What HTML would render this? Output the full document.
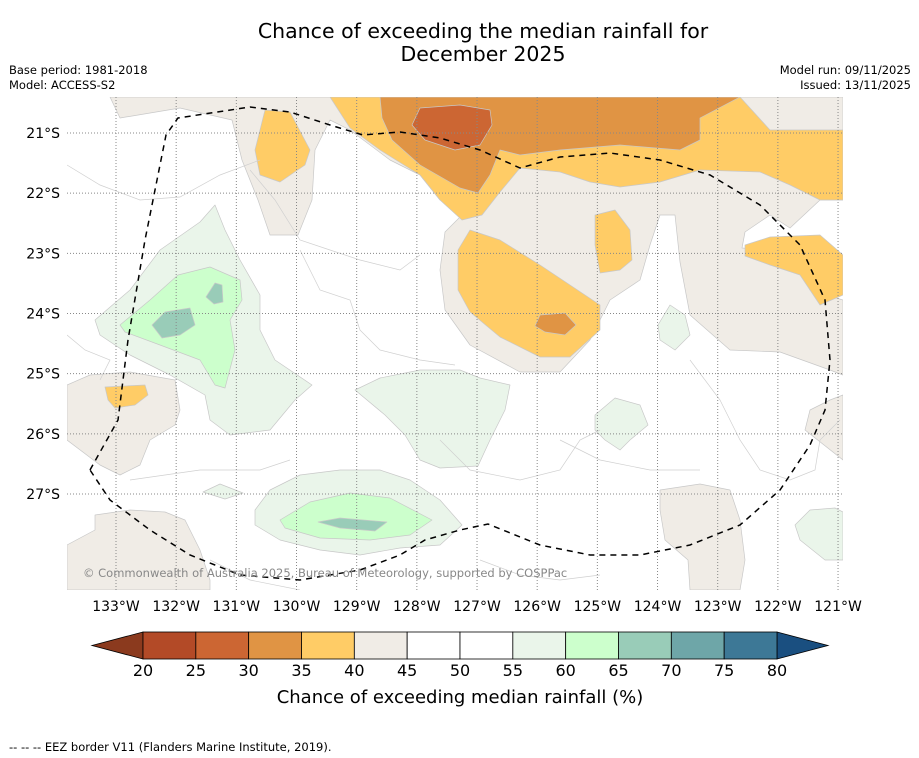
<!DOCTYPE html>
<html><head><meta charset="utf-8"><style>
body{margin:0;background:#fff;width:919px;height:758px;overflow:hidden;font-family:"Liberation Sans","DejaVu Sans",sans-serif}
svg{display:block}
</style></head><body>
<svg id="chart" width="919" height="758" xmlns="http://www.w3.org/2000/svg" font-family="DejaVu Sans, Liberation Sans, sans-serif">
<rect width="919" height="758" fill="#fff"/>
<text x="483" y="38" font-size="20.5" text-anchor="middle">Chance of exceeding the median rainfall for</text>
<text x="483" y="61" font-size="20.5" text-anchor="middle">December 2025</text>
<text x="9" y="74" font-size="11.5">Base period: 1981-2018</text>
<text x="9" y="89" font-size="11.5">Model: ACCESS-S2</text>
<text x="911" y="74" font-size="11.5" text-anchor="end">Model run: 09/11/2025</text>
<text x="911" y="89" font-size="11.5" text-anchor="end">Issued: 13/11/2025</text>
<defs><clipPath id="mapclip"><rect x="67" y="97" width="776" height="493"/></clipPath></defs>
<g id="map" clip-path="url(#mapclip)"></g>
<g id="axes"></g>
<g id="cbar"></g>
<text x="460" y="703" font-size="18" text-anchor="middle">Chance of exceeding median rainfall (%)</text>
<text x="9" y="751" font-size="11.5">--  --  -- EEZ border V11 (Flanders Marine Institute, 2019).</text>
</svg>
<script>
const lonTicks=[133,132,131,130,129,128,127,126,125,124,123,122,121];
const latTicks=[21,22,23,24,25,26,27];
const levels=[20,25,30,35,40,45,50,55,60,65,70,75,80];
const levelColors=["#b34a27","#cc6633","#e09444","#ffcc66","#f0ece6","#ffffff","#ffffff","#eaf5ea","#ccffcc","#99ccb8","#6ea6a8","#3d7896"];
const underColor="#8b3a1e", overColor="#1a4f80";
const NS="http://www.w3.org/2000/svg";
function xLon(w){return 116+(133-w)*60.17;}
function yLat(s){return 133+(s-21)*60.17;}
function xCb(v){return 143+(v-20)*(634/60);}
function mk(tag,attrs,parent){const e=document.createElementNS(NS,tag);for(const k in attrs)e.setAttribute(k,attrs[k]);parent.appendChild(e);return e;}
const map=document.getElementById('map');
const regions=[
["#f0ece6","110,97 843,97 843,200 820,200 790,228 770,215 745,232 742,248 790,252 810,290 843,300 843,375 830,370 780,352 730,350 690,315 680,262 675,215 660,215 650,245 640,280 610,300 590,340 560,372 520,372 470,345 445,310 440,270 445,232 462,215 440,200 420,175 390,160 350,130 330,120 315,150 312,200 298,235 270,235 258,200 242,160 232,120 180,108 120,118"],
["#f0ece6","67,385 90,375 130,372 175,380 180,410 175,425 150,440 140,465 120,475 100,465 67,440"],
["#f0ece6","95,515 130,510 165,512 185,520 200,550 210,580 210,590 67,590 67,545 95,530"],
["#f0ece6","660,490 700,484 730,490 740,520 745,560 740,590 690,590 688,560 665,540 660,510"],
["#f0ece6","843,395 830,400 810,410 805,430 843,460"],
["#ffcc66","330,97 740,97 770,130 843,130 843,200 820,200 790,185 760,172 700,170 660,182 620,187 590,182 560,172 520,168 500,192 482,215 462,220 440,200 420,175 380,150 350,128"],
["#e09444","380,97 740,97 700,118 700,140 680,150 620,145 560,150 520,155 500,150 490,175 478,193 460,188 420,165 392,140 382,118"],
["#cc6633","420,108 460,105 490,110 492,125 480,145 455,150 425,140 412,125"],
["#ffcc66","265,110 290,112 310,150 305,165 280,182 260,175 255,150"],
["#ffcc66","470,230 500,240 540,265 570,285 600,305 600,330 570,357 540,357 500,337 470,312 458,290 458,250"],
["#e09444","540,315 565,313 576,325 565,335 545,332 535,326"],
["#ffcc66","595,215 615,210 630,230 632,260 620,270 600,273 595,245"],
["#ffcc66","745,245 770,237 820,235 843,255 843,295 820,305 800,275 770,265 745,256"],
["#ffcc66","105,387 145,385 148,395 135,405 115,408 108,400"],
["#eaf5ea","95,320 130,290 160,250 200,222 215,205 225,230 240,260 260,295 260,330 275,360 312,385 295,400 270,430 230,435 210,420 205,395 170,375 130,355 100,335"],
["#ccffcc","120,325 150,300 178,275 210,267 240,280 242,300 230,320 235,350 225,388 215,385 200,360 160,345 125,332"],
["#99ccb8","152,325 165,312 190,308 195,325 180,335 162,338"],
["#99ccb8","206,297 215,283 222,285 223,302 214,304"],
["#eaf5ea","355,390 380,378 420,370 460,370 480,378 510,385 505,410 490,440 478,466 440,468 420,460 405,435 385,415"],
["#eaf5ea","255,510 270,490 300,475 340,470 380,470 410,480 440,500 462,525 440,545 400,548 360,555 320,550 280,540 255,525"],
["#ccffcc","280,520 310,502 350,493 390,498 432,520 410,535 370,540 320,538 285,528"],
["#99ccb8","318,522 340,518 387,522 375,531 340,528"],
["#eaf5ea","595,415 615,398 640,405 648,425 630,440 620,450 605,440 595,430"],
["#eaf5ea","658,325 670,305 685,315 690,335 675,350 660,340"],
["#eaf5ea","795,525 810,510 835,508 843,512 843,560 825,560 800,540"],
["#eaf5ea","203,492 220,484 243,493 225,499"]
];
regions.forEach((r,i)=>{
  const p=mk('polygon',{points:r[1],fill:r[0],stroke:"#c8c8c8","stroke-width":"0.7","stroke-linejoin":"round"},map);
  
  
});
const lines=["67,165 100,185 140,200 180,197 220,175 260,160","67,335 85,350 110,360 100,380","250,170 275,200 300,240 330,250 360,260 400,270 420,255","300,250 320,290 350,300 360,330 380,350 420,360 455,365","440,440 470,470 520,480 560,470 580,440 600,430","560,440 600,460 650,470 700,470","130,480 200,470 260,470 290,460","210,560 250,580 300,590","480,560 520,575 560,580 600,575","690,360 720,400 740,440 760,470 790,480 815,470 820,440 840,420"];
lines.forEach((l,i)=>{
  const p=mk('polyline',{points:l,fill:"none",stroke:"#d0d0d0","stroke-width":"0.7"},map);
  
  
});
lonTicks.forEach(w=>{
  const g=mk('line',{x1:xLon(w),x2:xLon(w),y1:97,y2:590,stroke:"#888","stroke-width":"1","stroke-dasharray":"1,2"},map);
  
  
});
latTicks.forEach(s=>{
  const g=mk('line',{x1:67,x2:843,y1:yLat(s),y2:yLat(s),stroke:"#888","stroke-width":"1","stroke-dasharray":"1,2"},map);
  
  
});
const eez=mk('polyline',{points:"90,470 118,420 128,340 145,240 166,135 178,118 250,107 290,112 330,125 363,135 400,132 440,138 480,150 520,168 560,157 610,153 660,160 710,175 760,205 800,245 825,300 830,360 825,410 810,445 780,490 740,525 690,545 640,555 590,555 540,545 488,524 460,530 425,540 400,555 360,570 300,580 240,575 190,555 150,530 110,500 90,470",fill:"none",stroke:"#000","stroke-width":"1.5","stroke-dasharray":"6,5"},map);


const cr=mk('text',{x:83,y:577,"font-size":"11.5",fill:"#888"},map);
cr.textContent="© Commonwealth of Australia 2025, Bureau of Meteorology, supported by COSPPac";


const axes=document.getElementById('axes');
lonTicks.forEach(w=>{
  const t=mk('text',{x:xLon(w),y:611,"font-size":"14","text-anchor":"middle"},axes);
  t.textContent=w+"°W";
  
  
});
latTicks.forEach(s=>{
  const t=mk('text',{x:60,y:yLat(s)+5,"font-size":"14","text-anchor":"end"},axes);
  t.textContent=s+"°S";
  
  
});
const cb=document.getElementById('cbar');
const y0=632,y1=659;
const ut=mk('polygon',{points:`${xCb(20)},${y0} ${xCb(20)},${y1} 92,${(y0+y1)/2}`,fill:underColor,stroke:"#000","stroke-width":"0.8"},cb);


const ot=mk('polygon',{points:`${xCb(80)},${y0} ${xCb(80)},${y1} 828,${(y0+y1)/2}`,fill:overColor,stroke:"#000","stroke-width":"0.8"},cb);


levelColors.forEach((c,i)=>{
  const r=mk('rect',{x:xCb(levels[i]),y:y0,width:xCb(levels[i+1])-xCb(levels[i]),height:y1-y0,fill:c,stroke:"#000","stroke-width":"0.8"},cb);
  
  
});
levels.forEach(v=>{
  const t=mk('text',{x:xCb(v),y:676,"font-size":"16","text-anchor":"middle"},cb);
  t.textContent=v;
  
  
});
</script>
</body></html>
